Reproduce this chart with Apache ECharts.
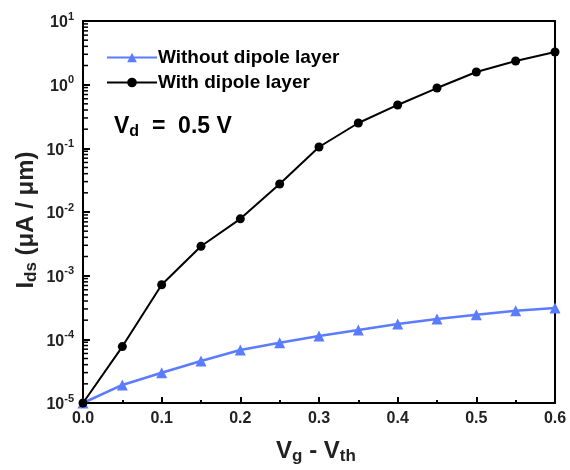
<!DOCTYPE html>
<html>
<head>
<meta charset="utf-8">
<script src="https://cdn.jsdelivr.net/npm/echarts@6/dist/echarts.min.js"></script>
<style>
  html, body { margin: 0; padding: 0; background: #fff; }
  #chart { width: 570px; height: 470px; }
</style>
</head>
<body>
<div id="chart"></div>
<script>
var vgVth = [0, 0.05, 0.1, 0.15, 0.2, 0.25, 0.3, 0.35, 0.4, 0.45, 0.5, 0.55, 0.6];
var withoutDipole = [1e-5, 1.92e-5, 2.99e-5, 4.57e-5, 6.8e-5, 8.85e-5, 1.13e-4, 1.4e-4, 1.74e-4, 2.09e-4, 2.44e-4, 2.82e-4, 3.1e-4];
var withDipole = [1e-5, 7.7e-5, 7.2e-4, 2.9e-3, 7.8e-3, 2.75e-2, 0.105, 0.25, 0.48, 0.885, 1.58, 2.35, 3.26];

// minor ticks of the log axis (2..9 in every decade)
var minorTicks = [];
for (var d = -5; d < 1; d++) {
  for (var k = 2; k < 10; k++) {
    minorTicks.push([0, k * Math.pow(10, d)]);
  }
}

var font = "Liberation Sans";
var blue = "#5b7cff";

function pairs(xs, ys) {
  return xs.map(function (x, i) { return [x, ys[i]]; });
}

// top and right lines of the frame
var frameAxis = {
  axisLine: { show: true, onZero: false, lineStyle: { color: "#000", width: 2 } },
  axisTick: { show: false },
  axisLabel: { show: false },
  splitLine: { show: false }
};

var myChart = echarts.init(document.getElementById("chart"));
var option = {
  animation: false,
  grid: { left: 83, right: 15, top: 21, bottom: 67 },
  legend: {
    orient: "vertical",
    left: 101,
    top: 43,
    itemWidth: 50,
    itemHeight: 12,
    itemGap: 6,
    textStyle: { fontFamily: font, fontWeight: "bold", fontSize: 19, color: "#000", padding: [0, 0, 0, -4] },
    data: ["Without dipole layer", "With dipole layer"]
  },
  xAxis: [
    {
      type: "value",
      min: 0,
      max: 0.6,
      interval: 0.1,
      axisLine: { show: true, onZero: false, lineStyle: { color: "#000", width: 2 } },
      axisTick: { show: true, inside: true, length: 6, lineStyle: { color: "#000", width: 2 } },
      minorTick: { show: true, splitNumber: 2, length: 3, lineStyle: { color: "#000", width: 2 } },
      splitLine: { show: false },
      axisLabel: {
        margin: 8,
        fontFamily: font, fontWeight: "bold", fontSize: 16, color: "#222",
        formatter: function (v) { return v.toFixed(1); }
      }
    },
    Object.assign({ type: "value", position: "top", min: 0, max: 0.6 }, frameAxis)
  ],
  yAxis: [
    {
      type: "log",
      logBase: 10,
      min: 1e-5,
      max: 10,
      axisLine: { show: true, onZero: false, lineStyle: { color: "#000", width: 2 } },
      axisTick: { show: true, inside: true, length: 7, lineStyle: { color: "#000", width: 2 } },
      splitLine: { show: false },
      axisLabel: {
        margin: 9,
        formatter: function (v) {
          var e = Math.round(Math.log10(v));
          return "{b|10}{s|" + e + "}";
        },
        rich: {
          b: { fontFamily: font, fontWeight: "bold", fontSize: 16, color: "#222", lineHeight: 20, padding: [4, 0, 0, 0] },
          s: { fontFamily: font, fontWeight: "bold", fontSize: 11, color: "#222", lineHeight: 12, verticalAlign: "top" }
        }
      }
    },
    Object.assign({ type: "value", position: "right", min: 0, max: 1 }, frameAxis)
  ],
  graphic: [
    {
      type: "text",
      x: 316, y: 451,
      style: {
        text: "{m|V}{s|g}{m| - V}{s|th}",
        align: "center", verticalAlign: "middle",
        rich: {
          m: { fontFamily: font, fontWeight: "bold", fontSize: 24, lineHeight: 28, fill: "#222" },
          s: { fontFamily: font, fontWeight: "bold", fontSize: 17, lineHeight: 17, verticalAlign: "bottom", fill: "#222" }
        }
      }
    },
    {
      type: "text",
      x: 26, y: 220,
      rotation: Math.PI / 2,
      style: {
        text: "{m|I}{s|ds}{m| (μA / μm)}",
        align: "center", verticalAlign: "middle",
        rich: {
          m: { fontFamily: font, fontWeight: "bold", fontSize: 24, lineHeight: 28, fill: "#222" },
          s: { fontFamily: font, fontWeight: "bold", fontSize: 17, lineHeight: 17, verticalAlign: "bottom", fill: "#222" }
        }
      }
    },
    {
      type: "text",
      x: 114, y: 127,
      style: {
        text: "{m|V}{s|d}{m|  =  0.5 V}",
        align: "left", verticalAlign: "middle",
        rich: {
          m: { fontFamily: font, fontWeight: "bold", fontSize: 23, lineHeight: 26, fill: "#000" },
          s: { fontFamily: font, fontWeight: "bold", fontSize: 16, lineHeight: 16, verticalAlign: "bottom", fill: "#000" }
        }
      }
    }
  ],
  series: [
    {
      name: "Without dipole layer",
      type: "line",
      data: pairs(vgVth, withoutDipole),
      symbol: "triangle",
      symbolSize: 11,
      showAllSymbol: true,
      lineStyle: { color: blue, width: 2.5 },
      itemStyle: { color: blue },
      z: 3
    },
    {
      name: "With dipole layer",
      type: "line",
      data: pairs(vgVth, withDipole),
      symbol: "circle",
      symbolSize: 9,
      showAllSymbol: true,
      lineStyle: { color: "#000", width: 2 },
      itemStyle: { color: "#000" },
      z: 4
    },
    {
      // short inward minor ticks on the log axis
      type: "custom",
      silent: true,
      data: minorTicks,
      renderItem: function (params, api) {
        var p = api.coord([api.value(0), api.value(1)]);
        return {
          type: "line",
          shape: { x1: p[0], y1: p[1], x2: p[0] + 5, y2: p[1] },
          style: { stroke: "#000", lineWidth: 1.5 }
        };
      },
      z: 5
    }
  ]
};
myChart.setOption(option);
</script>
</body>
</html>
